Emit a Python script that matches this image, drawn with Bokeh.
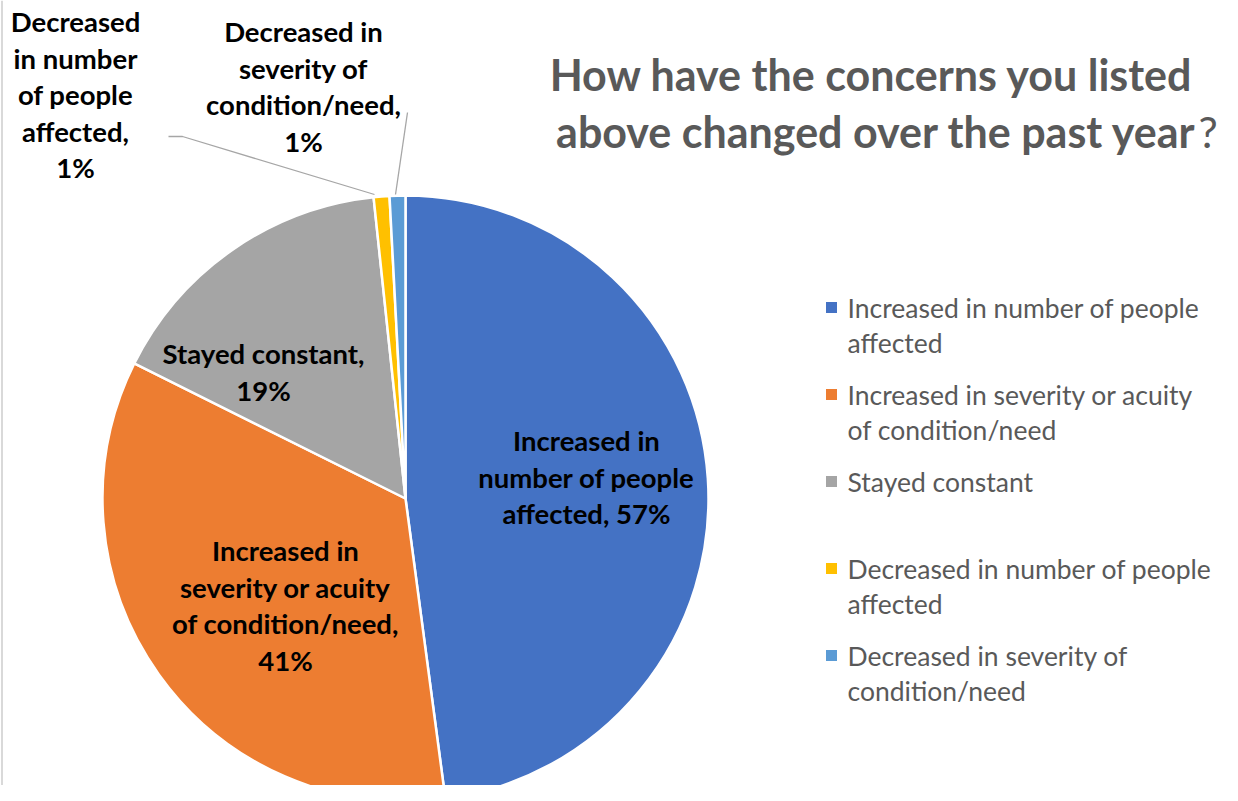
import math
from bokeh.plotting import figure
from bokeh.models import Range1d
from bokeh.embed import file_html
from bokeh.resources import INLINE
from bokeh.core.properties import value

# ---------------- data ----------------
categories = [
    "Increased in number of people affected",
    "Increased in severity or acuity of condition/need",
    "Stayed constant",
    "Decreased in number of people affected",
    "Decreased in severity of condition/need",
]
percents = [57, 41, 19, 1, 1]
colors = ["#4472C4", "#ED7D31", "#A5A5A5", "#FFC000", "#5B9BD5"]

legend_lines = [
    ["Increased in number of people", "affected"],
    ["Increased in severity or acuity", "of condition/need"],
    ["Stayed constant"],
    ["Decreased in number of people", "affected"],
    ["Decreased in severity of", "condition/need"],
]
label_lines = [
    ["Increased in", "number of people", "affected, {}%"],
    ["Increased in", "severity or acuity", "of condition/need,", "{}%"],
    ["Stayed constant,", "{}%"],
    ["Decreased", "in number", "of people", "affected,", "{}%"],
    ["Decreased in", "severity of", "condition/need,", "{}%"],
]
title_line1 = "How have the concerns you listed"
title_line2 = "above changed over the past year"

# ---------------- layout (page pixel coordinates) ----------------
W, H = 1222, 785
FONT = "Lato"


def Y(py):
    return H - py


cx, cy, R = 405, 498, 303
label_anchor = [(586, 440), (285, 550), (263, 353), (75, 21), (303, 31)]
label_step = 36.5
leaders = [None, None, None,
           ([168, 182, 374], [136, 136, 194]),
           ([407, 395], [112, 194])]
legend_x_marker, legend_x_text = 831, 847
legend_y0, legend_gap, legend_step = 307, 87, 35.5

p = figure(width=W, height=H, output_backend="svg", toolbar_location=None,
           x_range=Range1d(0, W), y_range=Range1d(0, H),
           min_border=0)
p.axis.visible = False
p.grid.visible = False
p.outline_line_color = None
p.background_fill_color = "white"
p.border_fill_color = "white"

# left chart-area border
p.segment(x0=[1.5], y0=[Y(0)], x1=[1.5], y1=[Y(801)], line_color="#D9D9D9", line_width=2)

# pie
total = sum(percents)
cum = 0
starts, ends = [], []
for v in percents:
    starts.append(math.pi / 2 - 2 * math.pi * cum / total)
    cum += v
    ends.append(math.pi / 2 - 2 * math.pi * cum / total)
p.wedge(x=[cx] * len(percents), y=[Y(cy)] * len(percents), radius=R,
        start_angle=starts, end_angle=ends, direction="clock",
        fill_color=colors, line_color="white", line_width=2.5)

# leader lines
for ld in leaders:
    if ld is None:
        continue
    xs, ys = ld
    p.line(xs, [Y(v) for v in ys], line_color="#A6A6A6", line_width=1.3)

# data labels
for lines, pct, (ax, ay) in zip(label_lines, percents, label_anchor):
    txt = [l.format(pct) if "{}" in l else l for l in lines]
    p.text(x=[ax] * len(txt), y=[Y(ay + i * label_step) for i in range(len(txt))],
           text=txt, text_align="center", text_baseline="middle",
           text_font=value(FONT), text_font_style="bold",
           text_font_size="27.5px", text_color="#000000")

# legend
for i, (lines, col) in enumerate(zip(legend_lines, colors)):
    y0 = legend_y0 + i * legend_gap
    p.scatter(x=[legend_x_marker], y=[Y(y0)], marker="square", size=11,
              fill_color=col, line_color=None)
    p.text(x=[legend_x_text] * len(lines),
           y=[Y(y0 + k * legend_step) for k in range(len(lines))],
           text=lines, text_align="left", text_baseline="middle",
           text_font=value(FONT), text_font_size="26.5px", text_color="#595959")

# title
p.text(x=[871], y=[Y(74)], text=[title_line1], text_align="center",
       text_baseline="middle", text_font=value(FONT), text_font_style="bold",
       text_font_size="43px", text_color="#595959")
p.text(x=[1196], y=[Y(131)], text=[title_line2], text_align="right",
       text_baseline="middle", text_font=value(FONT), text_font_style="bold",
       text_font_size="43px", text_color="#595959")
p.text(x=[1198], y=[Y(131)], text=["?"], text_align="left",
       text_baseline="middle", text_font=value(FONT),
       text_font_size="43px", text_color="#595959")

open("out.html", "w").write(file_html(p, INLINE))
